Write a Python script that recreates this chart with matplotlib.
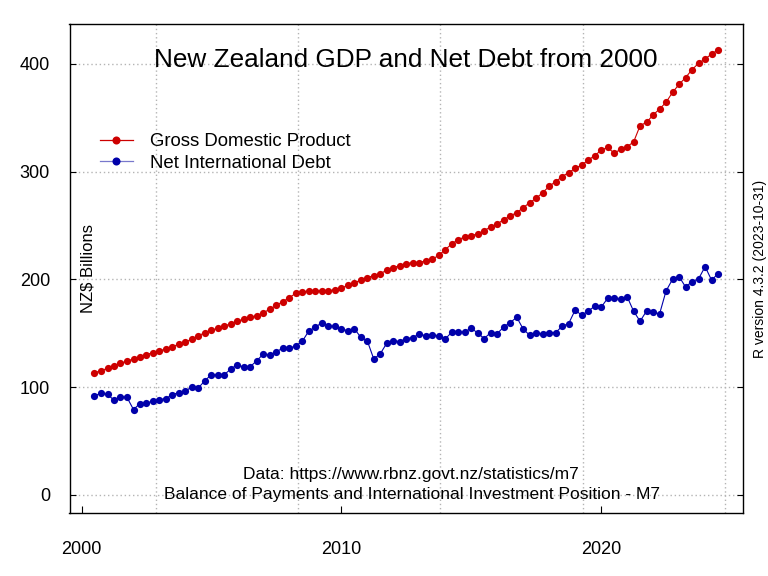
import matplotlib
matplotlib.use('Agg')
import matplotlib.pyplot as plt
import matplotlib.dates as mdates
from matplotlib.lines import Line2D
import pandas as pd
import datetime as dt

plt.rcParams['font.family'] = ['Liberation Sans', 'DejaVu Sans']

# quarterly observation dates (quarter ends)
quarters = pd.date_range('2000-06-30', '2024-06-30', freq='QE')

gdp = [113.5, 115.1,
       117.6, 120.0, 122.2, 124.1,
       126.2, 128.4, 130.2, 132.1,
       133.6, 135.5, 137.6, 139.8,
       142.0, 144.5, 147.6, 150.7,
       152.8, 154.7, 156.5, 159.0,
       161.2, 163.1, 164.9, 166.4,
       169.2, 172.3, 176.0, 179.4,
       183.1, 187.2, 188.7, 189.0,
       189.3, 189.3, 189.3, 190.6,
       191.8, 194.6, 197.0, 199.2,
       201.7, 203.5, 205.4, 208.5,
       211.0, 212.8, 214.7, 215.6,
       215.6, 217.4, 218.7, 222.4,
       227.7, 232.9, 236.9, 239.4,
       240.7, 242.2, 245.3, 248.7,
       251.5, 255.5, 258.9, 262.0,
       266.6, 271.3, 275.3, 280.6,
       286.5, 290.8, 295.4, 299.2,
       303.0, 306.2, 310.6, 314.9,
       319.9, 322.6, 317.1, 320.8,
       323.3, 327.6, 342.7, 345.9,
       352.7, 358.2, 364.4, 373.7,
       381.1, 387.3, 394.7, 400.6,
       404.6, 409.2, 413.0]

debt = [91.9, 94.4,
        93.4, 87.9, 91.2, 90.6,
        79.2, 84.8, 85.4, 86.9,
        88.5, 89.4, 93.1, 95.0,
        96.2, 100.5, 99.3, 106.1,
        111.7, 111.1, 111.7, 116.9,
        120.9, 118.5, 119.1, 124.6,
        130.9, 129.6, 133.0, 136.1,
        136.1, 138.3, 142.6, 152.2,
        155.6, 159.9, 156.8, 156.5,
        153.8, 152.5, 154.4, 146.3,
        142.9, 126.2, 130.9, 140.8,
        143.2, 142.3, 145.1, 146.0,
        149.4, 147.6, 148.8, 147.3,
        144.8, 151.0, 151.0, 151.3,
        154.7, 150.3, 145.1, 150.7,
        149.7, 155.9, 159.9, 164.9,
        153.8, 148.2, 150.1, 149.7,
        150.7, 150.7, 156.5, 159.0,
        171.7, 166.7, 170.5, 175.1,
        174.2, 182.5, 182.5, 181.6,
        183.8, 170.5, 161.2, 170.8,
        169.5, 168.0, 189.3, 200.2,
        202.6, 193.0, 198.0, 200.5,
        211.9, 199.3, 205.4]

series_names = ['Gross Domestic Product', 'Net International Debt']
y_ticks = [0, 100, 200, 300, 400]
x_tick_years = [2000, 2010, 2020]

RED = '#CD0000'
BLUE = '#0000AA'

fig = plt.figure(figsize=(7.68, 5.76), dpi=100)
ax = fig.add_axes([69.5/768, 1 - 513/576, (743 - 69.5)/768, (513 - 24.3)/576])

# grid (R grid(): dotted lightgray at default pretty positions in days)
for d in [12000, 14000, 16000, 18000, 20000]:
    ax.axvline(d, color='#B4B4B4', linestyle=(0, (1, 2)), linewidth=1.0, zorder=0)
for yv in y_ticks:
    ax.axhline(yv, color='#B4B4B4', linestyle=(0, (1, 2)), linewidth=1.0, zorder=0)

xd = mdates.date2num(quarters.to_pydatetime())
ax.plot(xd, gdp, color=RED, linewidth=0.8, marker='o', markersize=5.2,
        markeredgewidth=0, zorder=3)
ax.plot(xd, debt, color=BLUE, linewidth=0.8, marker='o', markersize=5.2,
        markeredgewidth=0, zorder=3)

rng = xd[-1] - xd[0]
ax.set_xlim(xd[0] - 0.04*rng, xd[-1] + 0.04*rng)
ax.set_ylim(-16.8, 436.8)

ax.set_yticks(y_ticks)
ax.set_yticklabels([str(v) for v in y_ticks])
xt = [mdates.date2num(dt.datetime(y, 1, 1)) for y in x_tick_years]
ax.set_xticks(xt)
ax.set_xticklabels([str(y) for y in x_tick_years])
ax.tick_params(axis='y', direction='in', length=4, width=0.8, labelsize=13,
               pad=14, right=True, labelright=False)
ax.tick_params(axis='x', direction='in', length=5, width=0.8, labelsize=13,
               pad=20)
for s in ax.spines.values():
    s.set_linewidth(1.0)
    s.set_color('black')

# title inside the plot
fig.text(406/768, 1 - 60/576, 'New Zealand GDP and Net Debt from 2000',
         fontsize=18.8, ha='center', va='center')

fig.text(88/768, 1 - 268.6/576, 'NZ$ Billions', rotation=90, fontsize=12,
         ha='center', va='center')

fig.text(411/768, 1 - 475/576, 'Data: https://www.rbnz.govt.nz/statistics/m7',
         fontsize=12.5, ha='center', va='center')
fig.text(412/768, 1 - 495/576,
         'Balance of Payments and International Investment Position - M7',
         fontsize=12.5, ha='center', va='center')

fig.text(760/768, 1 - 268.6/576, 'R version 4.3.2 (2023-10-31)', rotation=90,
         fontsize=10, ha='center', va='center')

handles = [Line2D([0], [0], color=RED, linewidth=0.9, marker='o', markersize=5.8,
                  markeredgewidth=0),
           Line2D([0], [0], color='#7878CC', linewidth=0.9, marker='o', markersize=5.8,
                  markerfacecolor=BLUE, markeredgewidth=0)]
fig.legend(handles, series_names, loc='upper left',
           bbox_to_anchor=(100/768, 1 - 133/576), frameon=False, fontsize=13.4,
           handlelength=1.77, handletextpad=0.92, borderpad=0, borderaxespad=0,
           labelspacing=0.25)

fig.savefig('out.png', dpi=100)
